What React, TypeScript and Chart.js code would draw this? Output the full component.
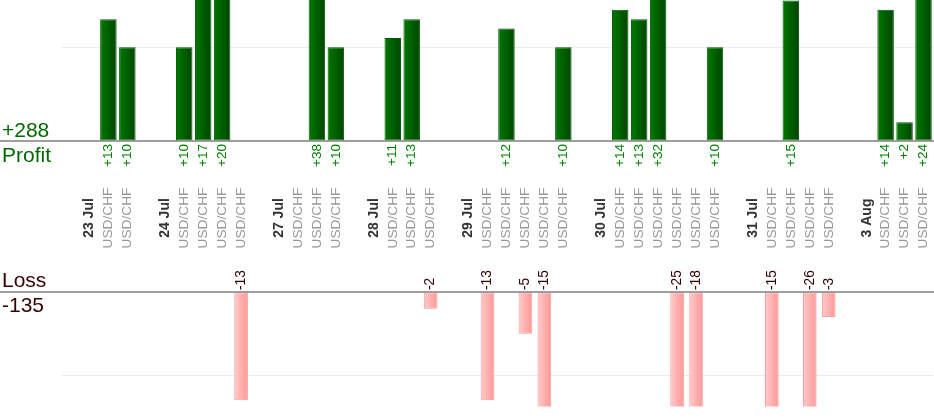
import { useEffect, useRef } from "react";
import { Chart, registerables } from "chart.js";

Chart.register(...registerables);

// one slot per column: blank spacer, date header, or a trade
const slots = [
  "", "23 Jul", "USD/CHF", "USD/CHF",
  "", "24 Jul", "USD/CHF", "USD/CHF", "USD/CHF", "USD/CHF",
  "", "27 Jul", "USD/CHF", "USD/CHF", "USD/CHF",
  "", "28 Jul", "USD/CHF", "USD/CHF", "USD/CHF",
  "", "29 Jul", "USD/CHF", "USD/CHF", "USD/CHF", "USD/CHF", "USD/CHF",
  "", "30 Jul", "USD/CHF", "USD/CHF", "USD/CHF", "USD/CHF", "USD/CHF", "USD/CHF",
  "", "31 Jul", "USD/CHF", "USD/CHF", "USD/CHF", "USD/CHF",
  "", "3 Aug", "USD/CHF", "USD/CHF", "USD/CHF",
];

const profit: (number | null)[] = [
  null, null, 13, 10,
  null, null, 10, 17, 20, null,
  null, null, null, 38, 10,
  null, null, 11, 13, null,
  null, null, null, 12, null, null, 10,
  null, null, 14, 13, 32, null, null, 10,
  null, null, null, 15, null, null,
  null, null, 14, 2, 24,
];

const loss: (number | null)[] = [
  null, null, null, null,
  null, null, null, null, null, -13,
  null, null, null, null, null,
  null, null, null, null, -2,
  null, null, -13, null, -5, -15, null,
  null, null, null, null, null, -25, -18, null,
  null, null, -15, null, -26, -3,
  null, null, null, null, null,
];

const PROFIT_MAX = 15.05;
const LOSS_MIN = -13.75;
const FONT = "Arial, 'Liberation Sans', sans-serif";

const total = (arr: (number | null)[]) => arr.reduce<number>((s, v) => s + (v ?? 0), 0);

function gradientFill(from: string, to: string, pct: number) {
  return (ctx: any) => {
    const chart = ctx.chart;
    const xs = chart.scales?.x;
    if (!xs || !chart.chartArea) return to;
    const cx = xs.getPixelForValue(ctx.dataIndex);
    if (!isFinite(cx)) return to;
    const half = ((xs.width / slots.length) * pct) / 2;
    const g = chart.ctx.createLinearGradient(cx - half, 0, cx + half, 0);
    g.addColorStop(0, from);
    g.addColorStop(1, to);
    return g;
  };
}

function rotatedText(
  c: CanvasRenderingContext2D,
  text: string,
  x: number,
  y: number,
  align: CanvasTextAlign,
  font: string,
  color: string
) {
  c.save();
  c.translate(x, y);
  c.rotate(-Math.PI / 2);
  c.font = font;
  c.fillStyle = color;
  c.textAlign = align;
  c.textBaseline = "middle";
  c.fillText(text, 0, 0);
  c.restore();
}

function baseline(chart: Chart) {
  const c = chart.ctx;
  const y = chart.scales.y.getPixelForValue(0);
  c.save();
  c.strokeStyle = "#7f7f7f";
  c.lineWidth = 1.5;
  c.beginPath();
  c.moveTo(0, y);
  c.lineTo(chart.width, y);
  c.stroke();
  c.restore();
}

const profitPlugin = {
  id: "profitLabels",
  afterDraw(chart: Chart) {
    const c = chart.ctx;
    const xs = chart.scales.x;
    const y0 = chart.scales.y.getPixelForValue(0);
    baseline(chart);
    profit.forEach((v, i) => {
      if (v == null) return;
      rotatedText(c, "+" + v, xs.getPixelForValue(i), y0 + 3, "right", `13.5px ${FONT}`, "#008000");
    });
    slots.forEach((s, i) => {
      if (!s) return;
      const isDate = s !== "USD/CHF";
      rotatedText(
        c,
        s,
        xs.getPixelForValue(i),
        218,
        "center",
        isDate ? `bold 14px ${FONT}` : `13.7px ${FONT}`,
        isDate ? "#333333" : "#999999"
      );
    });
    c.save();
    c.font = `21px ${FONT}`;
    c.fillStyle = "#006800";
    c.textAlign = "left";
    c.textBaseline = "alphabetic";
    c.fillText("+" + total(profit), 2, 137);
    c.fillText("Profit", 2, 162);
    c.restore();
  },
};

const lossPlugin = {
  id: "lossLabels",
  afterDraw(chart: Chart) {
    const c = chart.ctx;
    const xs = chart.scales.x;
    const y0 = chart.scales.y.getPixelForValue(0);
    baseline(chart);
    loss.forEach((v, i) => {
      if (v == null) return;
      rotatedText(c, String(v), xs.getPixelForValue(i), y0 - 2, "left", `13.8px ${FONT}`, "#330000");
    });
    c.save();
    c.font = `21px ${FONT}`;
    c.fillStyle = "#3a0000";
    c.textAlign = "left";
    c.textBaseline = "alphabetic";
    c.fillText("Loss", 2, 27);
    c.fillText(String(total(loss)), 2, 52);
    c.restore();
  },
};

function gridAt10(ctx: any) {
  return Math.abs(Math.abs(ctx.tick?.value ?? 0) - 10) < 0.001 ? "#ebebeb" : "rgba(0,0,0,0)";
}

function makeChart(
  canvas: HTMLCanvasElement,
  data: (number | null)[],
  opts: { min: number; max: number; top: number; bottom: number; pct: number; from: string; to: string; border: string; plugin: any }
) {
  return new Chart(canvas, {
    type: "bar",
    data: {
      labels: slots,
      datasets: [
        {
          data,
          backgroundColor: gradientFill(opts.from, opts.to, opts.pct),
          borderColor: opts.border,
          borderWidth: 1,
          borderSkipped: false,
          barPercentage: opts.pct,
          categoryPercentage: 1,
        },
      ],
    },
    options: {
      responsive: true,
      maintainAspectRatio: false,
      animation: false,
      layout: { padding: { left: 61, right: 1, top: opts.top, bottom: opts.bottom } },
      plugins: { legend: { display: false }, tooltip: { enabled: false } },
      scales: {
        x: { display: false },
        y: {
          min: opts.min,
          max: opts.max,
          ticks: { display: false, stepSize: 10 },
          border: { display: false },
          grid: { drawTicks: false, color: gridAt10 },
        },
      },
    },
    plugins: [opts.plugin],
  });
}

export default function App() {
  const topRef = useRef<HTMLCanvasElement>(null);
  const bottomRef = useRef<HTMLCanvasElement>(null);

  useEffect(() => {
    document.body.style.margin = "0";
    if (!topRef.current || !bottomRef.current) return;
    const top = makeChart(topRef.current, profit, {
      min: 0,
      max: PROFIT_MAX,
      top: 0,
      bottom: 119,
      pct: 0.87,
      from: "#007800",
      to: "#004600",
      border: "#005a00",
      plugin: profitPlugin,
    });
    const bottom = makeChart(bottomRef.current, loss, {
      min: LOSS_MIN,
      max: 0,
      top: 32,
      bottom: 13.5,
      pct: 0.72,
      from: "#ffcaca",
      to: "#ff9797",
      border: "#ff9a9a",
      plugin: lossPlugin,
    });
    return () => {
      top.destroy();
      bottom.destroy();
    };
  }, []);

  return (
    <div style={{ position: "relative", width: 934, height: 420, background: "#fff" }}>
      <div style={{ position: "absolute", left: 0, top: 0, width: 934, height: 260 }}>
        <canvas ref={topRef} />
      </div>
      <div style={{ position: "absolute", left: 0, top: 260, width: 934, height: 160 }}>
        <canvas ref={bottomRef} />
      </div>
    </div>
  );
}
